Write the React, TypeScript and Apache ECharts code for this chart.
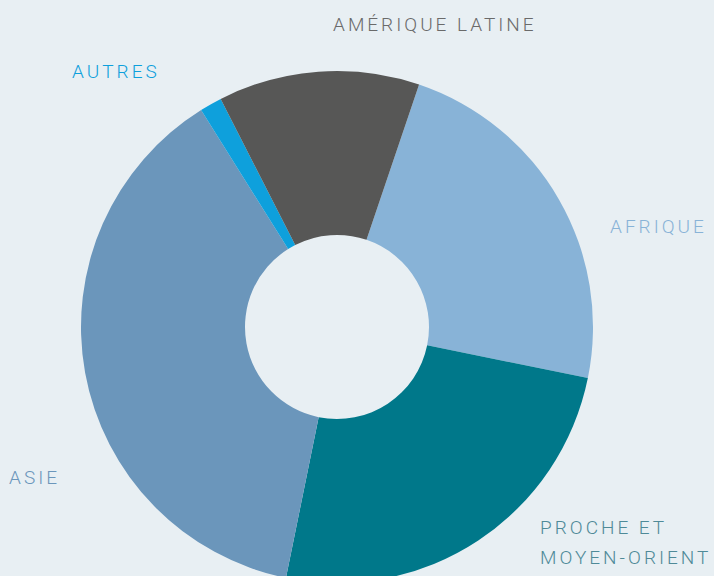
import React, { useEffect, useRef } from "react";
import * as echarts from "echarts";

const categories = ["AFRIQUE", "PROCHE ET\nMOYEN-ORIENT", "ASIE", "AUTRES", "AMÉRIQUE LATINE"];
const values = [23.0, 25.0, 37.9, 1.4, 12.7];
const sliceColors = ["#88b3d7", "#00788a", "#6b96bb", "#0ea0dc", "#575756"];
const labelColors = ["#88b3d7", "#4f8a98", "#6b96bb", "#0ea0dc", "#6a6a6a"];
const labelPositions: [number, number][] = [
  [610, 226],
  [540, 542],
  [9, 477],
  [72, 71],
  [333, 24],
];

export default function App() {
  const ref = useRef<HTMLDivElement>(null);
  useEffect(() => {
    document.body.style.margin = "0";
    const chart = echarts.init(ref.current!, null, { renderer: "svg" });
    chart.setOption({
      animation: false,
      backgroundColor: "#e8eff3",
      series: [
        {
          type: "pie",
          center: [337, 327],
          radius: [92, 256],
          startAngle: 71.3,
          clockwise: true,
          silent: true,
          emphasis: { disabled: true },
          labelLine: { show: false },
          label: {
            show: true,
            position: "outside",
            alignTo: "none",
            overflow: "none",
            fontFamily: "Roboto",
            fontWeight: 300,
            fontSize: 19,
            lineHeight: 30,
            formatter: (p: any) => p.name,
          },
          labelLayout: (p: any) => {
            const pos = labelPositions[p.dataIndex];
            return { x: pos[0], y: pos[1], align: "left", verticalAlign: "middle" };
          },
          data: categories.map((c, i) => ({
            name: c,
            value: values[i],
            itemStyle: { color: sliceColors[i] },
            label: { color: labelColors[i] },
          })),
        },
      ],
    });
    ref.current!.querySelectorAll("text").forEach((t) => {
      t.setAttribute("letter-spacing", "3");
    });
    return () => chart.dispose();
  }, []);
  return <div ref={ref} style={{ width: 714, height: 576 }} />;
}
